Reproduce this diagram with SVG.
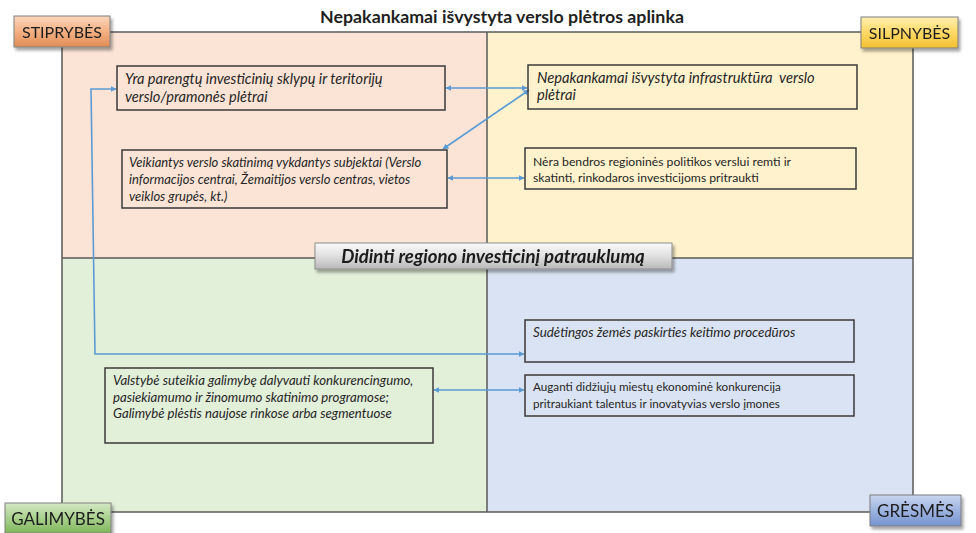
<svg xmlns="http://www.w3.org/2000/svg" width="976" height="533" viewBox="0 0 976 533">
<defs>
<linearGradient id="gOr" x1="0" y1="0" x2="0" y2="1"><stop offset="0" stop-color="#fbd6bd"/><stop offset="0.5" stop-color="#f4b183"/><stop offset="1" stop-color="#e08c55"/></linearGradient>
<linearGradient id="gYe" x1="0" y1="0" x2="0" y2="1"><stop offset="0" stop-color="#fff1b0"/><stop offset="0.5" stop-color="#ffd966"/><stop offset="1" stop-color="#f2c030"/></linearGradient>
<linearGradient id="gGr" x1="0" y1="0" x2="0" y2="1"><stop offset="0" stop-color="#d3e8c4"/><stop offset="0.5" stop-color="#a9d18e"/><stop offset="1" stop-color="#80b75c"/></linearGradient>
<linearGradient id="gBl" x1="0" y1="0" x2="0" y2="1"><stop offset="0" stop-color="#c9d6ef"/><stop offset="0.5" stop-color="#9db4e0"/><stop offset="1" stop-color="#7593cf"/></linearGradient>
<linearGradient id="gGy" x1="0" y1="0" x2="0" y2="1"><stop offset="0" stop-color="#fafafa"/><stop offset="0.5" stop-color="#e0e0e0"/><stop offset="1" stop-color="#b8b8b8"/></linearGradient>
<filter id="sh" x="-10%" y="-20%" width="125%" height="160%"><feDropShadow dx="2" dy="3" stdDeviation="1.5" flood-color="#000" flood-opacity="0.35"/></filter>
<marker id="ar" viewBox="0 0 10 10" refX="9" refY="5" markerWidth="6" markerHeight="6" orient="auto-start-reverse" markerUnits="userSpaceOnUse"><path d="M0,0 L10,5 L0,10 z" fill="#5b9bd5"/></marker>
<style>
.q{stroke:#595959;stroke-width:1.5}
.bx{fill:none;stroke:#3a3a3a;stroke-width:1.5}
.t{font-family:Lato,"Noto Sans",sans-serif;fill:#262626}
.i{font-style:italic}
.lab{font-family:Lato,"Noto Sans",sans-serif;fill:#1f1f1f;text-anchor:middle}
.lb{stroke:#7f7f7f;stroke-width:1}
.c{fill:none;stroke:#5b9bd5;stroke-width:1.6;marker-start:url(#ar);marker-end:url(#ar)}
</style>
</defs>
<rect width="976" height="533" fill="#ffffff"/>
<g id="quadrants">
<rect x="62" y="32" width="425" height="226" fill="#fbe4d5"/>
<rect x="487" y="32" width="426" height="226" fill="#fff2cc"/>
<rect x="62" y="258" width="425" height="254" fill="#e2efd9"/>
<rect x="487" y="258" width="426" height="254" fill="#dae3f3"/>
<rect x="62" y="32" width="851" height="480" fill="none" class="q"/>
<line x1="487" y1="32" x2="487" y2="512" class="q"/>
<line x1="62" y1="258" x2="913" y2="258" class="q"/>
</g>
<text x="502" y="23" font-family="Lato,'Noto Sans',sans-serif" font-size="17.8" font-weight="bold" fill="#1f1f1f" text-anchor="middle">Nepakankamai išvystyta verslo plėtros aplinka</text>
<g id="stiprybes" filter="url(#sh)"><rect x="14" y="16" width="96" height="31" fill="url(#gOr)" class="lb"/><text x="62" y="38" class="lab" font-size="16">STIPRYBĖS</text></g>
<g id="silpnybes" filter="url(#sh)"><rect x="861" y="17" width="97" height="31" fill="url(#gYe)" class="lb"/><text x="909.5" y="39" class="lab" font-size="16">SILPNYBĖS</text></g>
<g id="galimybes" filter="url(#sh)"><rect x="5" y="503" width="106" height="30" fill="url(#gGr)" class="lb"/><text x="58" y="525" class="lab" font-size="17">GALIMYBĖS</text></g>
<g id="gresmes" filter="url(#sh)"><rect x="870" y="495" width="91" height="31" fill="url(#gBl)" class="lb"/><text x="915.5" y="517" class="lab" font-size="17">GRĖSMĖS</text></g>
<g id="connectors">
<line x1="446" y1="88" x2="527" y2="88" class="c"/>
<line x1="529" y1="90" x2="443" y2="149" class="c"/>
<line x1="448" y1="178" x2="524" y2="178" class="c"/>
<polyline points="116,89 91,89 95,354 524,354" class="c"/>
<line x1="434" y1="390" x2="524" y2="390" class="c"/>
</g>
<g id="s1"><rect x="117" y="66" width="328" height="44" class="bx"/>
<text class="t i" x="125" y="84" font-size="14.6">Yra parengtų investicinių sklypų ir teritorijų</text>
<text class="t i" x="125" y="102" font-size="14.6">verslo/pramonės plėtrai</text></g>
<g id="s2"><rect x="122" y="150" width="325" height="58" class="bx"/>
<text class="t i" x="129" y="167" font-size="13">Veikiantys verslo skatinimą vykdantys subjektai (Verslo</text>
<text class="t i" x="129" y="184" font-size="13">informacijos centrai, Žemaitijos verslo centras, vietos</text>
<text class="t i" x="129" y="201" font-size="13">veiklos grupės, kt.)</text></g>
<g id="w1"><rect x="528" y="65" width="329" height="44" class="bx"/>
<text class="t i" x="537" y="83" font-size="14.7" xml:space="preserve">Nepakankamai išvystyta infrastruktūra  verslo</text>
<text class="t i" x="537" y="100" font-size="14.7">plėtrai</text></g>
<g id="w2"><rect x="525" y="148" width="331" height="41" class="bx"/>
<text class="t" x="533" y="166" font-size="12.2">Nėra bendros regioninės politikos verslui remti ir</text>
<text class="t" x="533" y="182" font-size="12.2">skatinti, rinkodaros investicijoms pritraukti</text></g>
<g id="t1"><rect x="525" y="320" width="329" height="42" class="bx"/>
<text class="t i" x="533" y="337" font-size="13.4">Sudėtingos žemės paskirties keitimo procedūros</text></g>
<g id="t2"><rect x="525" y="375" width="329" height="41" class="bx"/>
<text class="t" x="533" y="391" font-size="11.7">Auganti didžiųjų miestų ekonominė konkurencija</text>
<text class="t" x="533" y="408" font-size="11.7">pritraukiant talentus ir inovatyvias verslo įmones</text></g>
<g id="o1"><rect x="105" y="368" width="328" height="75" class="bx"/>
<text class="t i" x="113" y="385" font-size="13.2">Valstybė suteikia galimybę dalyvauti konkurencingumo,</text>
<text class="t i" x="113" y="402" font-size="13.2">pasiekiamumo ir žinomumo skatinimo programose;</text>
<text class="t i" x="113" y="418" font-size="13.2">Galimybė plėstis naujose rinkose arba segmentuose</text></g>
<g id="goal" filter="url(#sh)"><rect x="315" y="243" width="357" height="26" fill="url(#gGy)" stroke="#8c8c8c" stroke-width="1"/>
<text x="493" y="262.5" font-family="Lato,'Noto Sans',sans-serif" font-size="18.6" font-weight="bold" font-style="italic" fill="#1a1a1a" text-anchor="middle">Didinti regiono investicinį patrauklumą</text></g>
</svg>
